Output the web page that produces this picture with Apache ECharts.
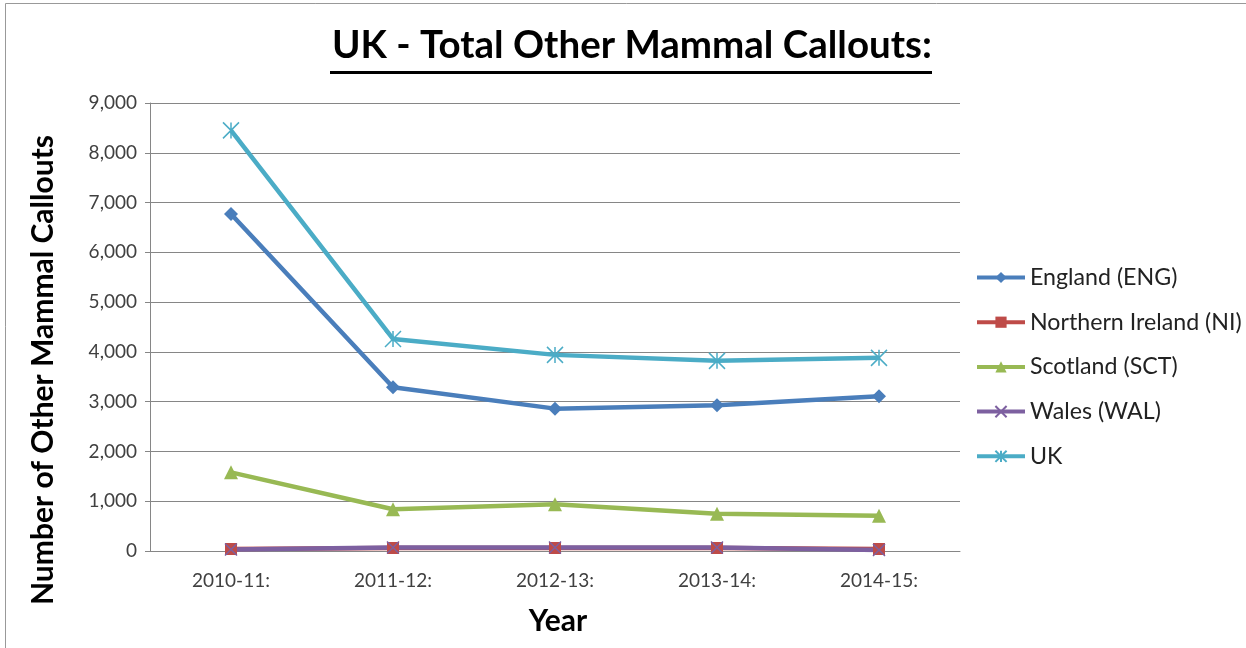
<!DOCTYPE html>
<html>
<head>
<meta charset="utf-8">
<script src="https://cdn.jsdelivr.net/npm/echarts@6/dist/echarts.min.js"></script>
<style>
html,body{margin:0;padding:0;background:#fff;}
#chart{width:1246px;height:648px;}
</style>
</head>
<body>
<div id="chart"></div>
<script>
const categories = ['2010-11:', '2011-12:', '2012-13:', '2013-14:', '2014-15:'];
const england = [6770, 3290, 2860, 2930, 3110];
const northernIreland = [40, 60, 60, 60, 40];
const scotland = [1580, 840, 940, 750, 710];
const wales = [30, 70, 70, 70, 20];
const uk = [8450, 4260, 3940, 3820, 3880];
const yTicks = { min: 0, max: 9000, interval: 1000 };
const yAxisTitle = 'Number of Other Mammal Callouts';

const FONT = 'Lato';
const chart = echarts.init(document.getElementById('chart'), null, { renderer: 'canvas' });

function mkSeries(name, data, color, symbol, size, extra) {
  return Object.assign({
    name: name,
    type: 'line',
    data: data,
    symbol: symbol,
    symbolSize: size,
    showAllSymbol: true,
    lineStyle: { color: color, width: 4.5 },
    itemStyle: { color: color },
    emphasis: { disabled: true },
    z: 3
  }, extra || {});
}

const option = {
  animation: false,
  backgroundColor: '#ffffff',
  textStyle: { fontFamily: FONT },
  title: {
    text: 'UK - Total Other Mammal Callouts:',
    left: 332,
    top: 26,
    padding: 0,
    textStyle: { fontFamily: FONT, fontWeight: 'bold', fontSize: 38.5, color: '#000' }
  },
  legend: {
    orient: 'vertical',
    left: 975,
    top: 266,
    padding: 0,
    itemWidth: 48,
    itemHeight: 14,
    itemGap: 21.7,
    lineStyle: { width: 4 },
    textStyle: { fontFamily: FONT, fontSize: 23.2, color: '#222' },
    data: ['England (ENG)', 'Northern Ireland (NI)', 'Scotland (SCT)', 'Wales (WAL)', 'UK']
  },
  grid: { left: 150, right: 286, top: 103, bottom: 97, containLabel: false },
  xAxis: {
    type: 'category',
    data: categories,
    boundaryGap: true,
    name: 'Year',
    nameLocation: 'middle',
    nameGap: 55,
    nameTextStyle: { fontFamily: FONT, fontWeight: 'bold', fontSize: 30, color: '#000', padding: [0, 0, 0, 6] },
    axisLine: { lineStyle: { color: '#868686', width: 1 } },
    axisTick: { show: false },
    axisLabel: { fontFamily: FONT, fontSize: 19, color: '#404040', margin: 20 }
  },
  yAxis: {
    type: 'value',
    min: yTicks.min,
    max: yTicks.max,
    interval: yTicks.interval,
    axisLine: { show: true, lineStyle: { color: '#868686', width: 1 } },
    axisTick: { show: true, length: 5, lineStyle: { color: '#868686' } },
    splitLine: { lineStyle: { color: '#868686', width: 1 } },
    axisLabel: {
      fontFamily: FONT, fontSize: 19, color: '#404040', margin: 13,
      formatter: function (v) { return v.toLocaleString('en-US'); }
    }
  },
  graphic: [
    { type: 'rect', shape: { x: 5.5, y: 3.5, width: 1300, height: 700 }, style: { fill: 'none', stroke: '#999', lineWidth: 1 }, silent: true, z: -1 },
    { type: 'rect', shape: { x: 330, y: 71, width: 602, height: 3 }, style: { fill: '#000' }, silent: true },
    { type: 'text', x: 43, y: 370, rotation: Math.PI / 2, silent: true,
      style: { text: yAxisTitle, fontFamily: FONT, fontWeight: 'bold', fontSize: 30, fill: '#000', align: 'center', verticalAlign: 'middle' } }
  ],
  series: [
    mkSeries('England (ENG)', england, '#4a7ebb', 'diamond', 14),
    mkSeries('Northern Ireland (NI)', northernIreland, '#be4b48', 'rect', 12),
    mkSeries('Scotland (SCT)', scotland, '#98b954', 'triangle', 14),
    mkSeries('Wales (WAL)', wales, '#7d60a0', 'path://M0,0L10,10M10,0L0,10', 12, {
      itemStyle: { color: '#7d60a0', borderColor: '#7d60a0', borderWidth: 1.5 }
    }),
    mkSeries('UK', uk, '#4bacc6', 'path://M0,0L10,10M10,0L0,10M5,0L5,10', 16, {
      itemStyle: { color: '#4bacc6', borderColor: '#4bacc6', borderWidth: 1.5 }
    })
  ]
};
chart.setOption(option);
</script>
</body>
</html>
